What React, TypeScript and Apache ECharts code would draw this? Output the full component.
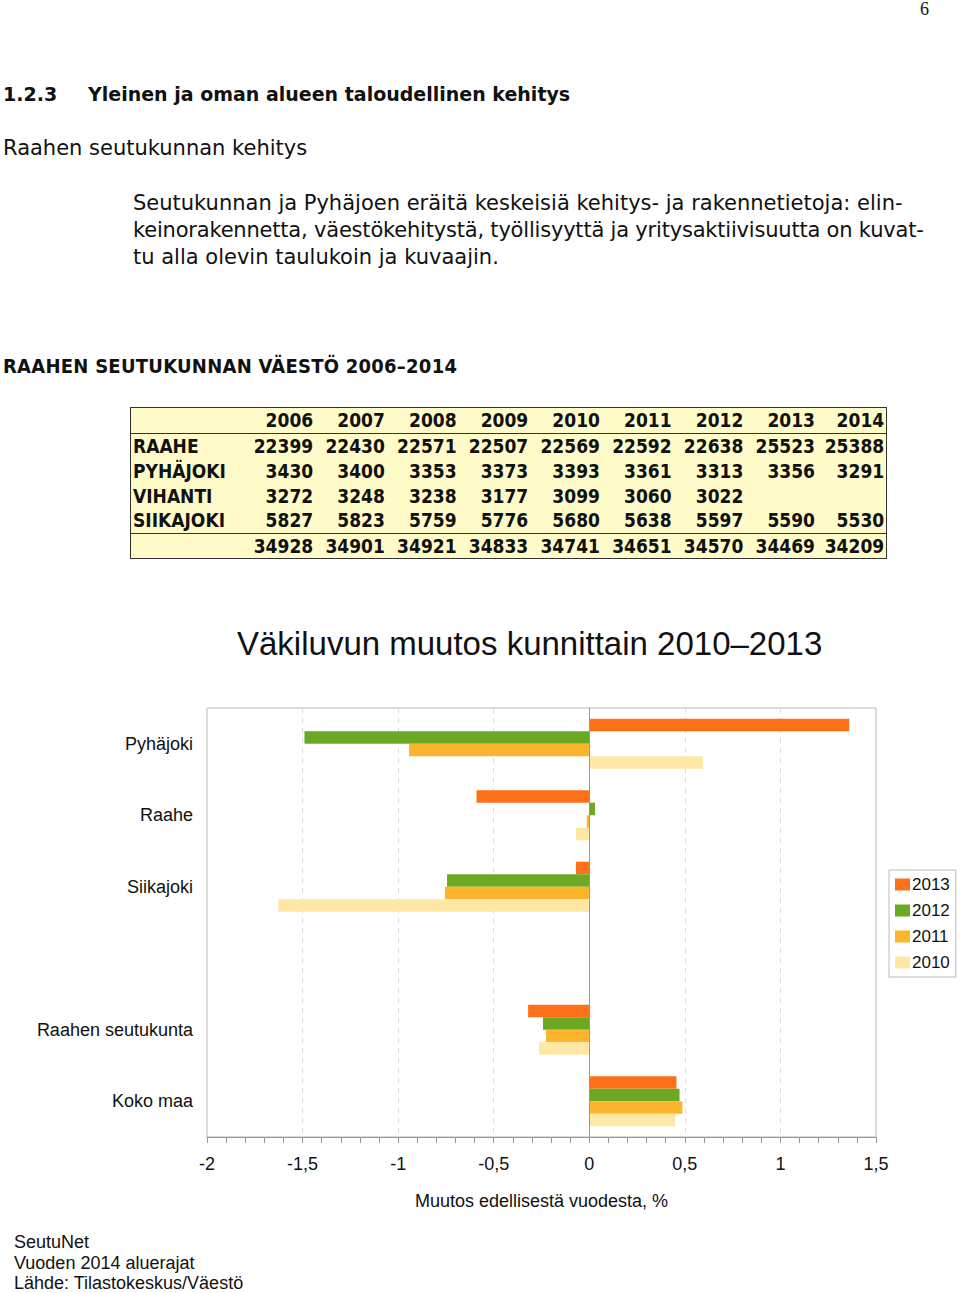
import React, { useEffect, useRef } from "react";
import * as echarts from "echarts";

// ---------- data ----------
const tableYears = ["2006", "2007", "2008", "2009", "2010", "2011", "2012", "2013", "2014"];
const raahe = ["22399", "22430", "22571", "22507", "22569", "22592", "22638", "25523", "25388"];
const pyhajoki = ["3430", "3400", "3353", "3373", "3393", "3361", "3313", "3356", "3291"];
const vihanti = ["3272", "3248", "3238", "3177", "3099", "3060", "3022", "", ""];
const siikajoki = ["5827", "5823", "5759", "5776", "5680", "5638", "5597", "5590", "5530"];
const totals = ["34928", "34901", "34921", "34833", "34741", "34651", "34570", "34469", "34209"];

const categories = ["Pyhäjoki", "Raahe", "Siikajoki", "", "Raahen seutukunta", "Koko maa"];
const seriesNames = ["2013", "2012", "2011", "2010"];
const v2013 = [1.36, -0.59, -0.07, null, -0.32, 0.456];
const v2012 = [-1.49, 0.03, -0.744, null, -0.242, 0.472];
const v2011 = [-0.943, -0.013, -0.755, null, -0.226, 0.487];
const v2010 = [0.594, -0.07, -1.627, null, -0.263, 0.449];
const seriesColors = ["#FF7119", "#6BA823", "#FCB52D", "#FFE8A6"];

const DOC_FONT = "'DejaVu Sans', sans-serif";
const TABLE_FONT = "'DejaVu Sans Condensed', 'DejaVu Sans', sans-serif";
const CHART_FONT = "'Liberation Sans', Arial, sans-serif";

function Txt(props: { x: number; y: number; size: number; bold?: boolean; font?: string; children: any; style?: any }) {
  return (
    <div
      style={{
        position: "absolute",
        left: props.x,
        top: props.y,
        fontSize: props.size,
        fontWeight: props.bold ? 700 : 400,
        fontFamily: props.font || DOC_FONT,
        whiteSpace: "nowrap",
        lineHeight: 1,
        color: "#111",
        ...(props.style || {}),
      }}
    >
      {props.children}
    </div>
  );
}

function PopTable() {
  const rows = [
    ["RAAHE", raahe],
    ["PYHÄJOKI", pyhajoki],
    ["VIHANTI", vihanti],
    ["SIIKAJOKI", siikajoki],
  ] as [string, string[]][];
  const cell: any = { textAlign: "right", padding: "0 0 0 0", width: 71.5 };
  const labelCell: any = { textAlign: "left", paddingLeft: 2, width: 110 };
  return (
    <table
      style={{
        position: "absolute",
        left: 130,
        top: 407,
        width: 757,
        borderCollapse: "collapse",
        tableLayout: "fixed",
        background: "#FFFBC9",
        border: "1.5px solid #333",
        fontFamily: TABLE_FONT,
        fontStretch: "condensed",
        fontWeight: 700,
        fontSize: 19,
        color: "#111",
        lineHeight: 1,
      }}
    >
      <colgroup>
        <col style={{ width: 111 }} />
        {tableYears.map((y) => (
          <col key={y} style={{ width: 71.7 }} />
        ))}
      </colgroup>
      <tbody>
        <tr style={{ height: 26, borderBottom: "1.5px solid #333" }}>
          <td style={labelCell}></td>
          {tableYears.map((y, i) => (
            <td key={y} style={{ ...cell, paddingRight: i === 8 ? 2 : 0 }}>
              {y}
            </td>
          ))}
        </tr>
        {rows.map(([name, vals]) => (
          <tr key={name} style={{ height: 25 }}>
            <td style={labelCell}>{name}</td>
            {vals.map((v, i) => (
              <td key={i} style={{ ...cell, paddingRight: i === 8 ? 2 : 0 }}>
                {v}
              </td>
            ))}
          </tr>
        ))}
        <tr style={{ height: 25, borderTop: "1.5px solid #333" }}>
          <td style={labelCell}></td>
          {totals.map((v, i) => (
            <td key={i} style={{ ...cell, paddingRight: i === 8 ? 2 : 0 }}>
              {v}
            </td>
          ))}
        </tr>
      </tbody>
    </table>
  );
}

function Chart() {
  const ref = useRef<HTMLDivElement>(null);
  useEffect(() => {
    if (!ref.current) return;
    const chart = echarts.init(ref.current, null, { renderer: "svg" });
    const values = [v2013, v2012, v2011, v2010];
    chart.setOption({
      animation: false,
      textStyle: { fontFamily: CHART_FONT },
      title: {
        text: "Väkiluvun muutos kunnittain 2010–2013",
        left: 237,
        top: 27,
        padding: 0,
        textStyle: { fontFamily: CHART_FONT, fontSize: 33, fontWeight: 400, color: "#111" },
      },
      legend: {
        data: seriesNames,
        orient: "vertical",
        left: 889,
        top: 270,
        itemWidth: 15,
        itemHeight: 12,
        itemGap: 9,
        padding: [6, 6, 6, 6],
        borderColor: "#bbb",
        borderWidth: 1,
        textStyle: { fontFamily: CHART_FONT, fontSize: 17, color: "#111", padding: [0, 0, 0, -3] },
        icon: "rect",
      },
      grid: {
        left: 207,
        right: 84,
        top: 108,
        bottom: 156,
        show: true,
        borderColor: "#b5b5b5",
        borderWidth: 1,
        containLabel: false,
      },
      xAxis: {
        type: "value",
        min: -2,
        max: 1.5,
        interval: 0.5,
        name: "Muutos edellisestä vuodesta, %",
        nameLocation: "middle",
        nameGap: 55,
        nameTextStyle: { fontFamily: CHART_FONT, fontSize: 18, color: "#111" },
        axisLine: { show: true, lineStyle: { color: "#999" } },
        axisTick: { show: true, length: 6, lineStyle: { color: "#999" } },
        minorTick: { show: true, splitNumber: 5, length: 6, lineStyle: { color: "#999" } },
        splitLine: { show: true, lineStyle: { color: "#dcdcdc", type: [5, 5] } },
        axisLabel: {
          fontFamily: CHART_FONT,
          fontSize: 18,
          color: "#111",
          margin: 18,
          formatter: (v: number) => String(v).replace(".", ","),
        },
      },
      yAxis: {
        type: "category",
        data: categories,
        inverse: true,
        axisLine: { show: false, onZero: false },
        axisTick: { show: false },
        axisLabel: { fontFamily: CHART_FONT, fontSize: 18, color: "#111", margin: 14 },
      },
      series: seriesNames.map((name, i) => ({
        name,
        type: "bar",
        data: values[i],
        barGap: "0%",
        barCategoryGap: "30%",
        itemStyle: { color: seriesColors[i] },
        markLine:
          i === 0
            ? {
                silent: true,
                symbol: "none",
                label: { show: false },
                lineStyle: { color: "#999", type: "solid", width: 1 },
                data: [{ xAxis: 0 }],
              }
            : undefined,
      })),
    });
    return () => chart.dispose();
  }, []);
  return <div ref={ref} style={{ position: "absolute", left: 0, top: 600, width: 960, height: 693 }} />;
}

export default function App() {
  useEffect(() => {
    document.body.style.margin = "0";
  }, []);
  return (
    <div style={{ position: "relative", width: 960, height: 1293, background: "#fff", overflow: "hidden" }}>
      <Txt x={920} y={0} size={18} font="'Liberation Serif', serif">
        6
      </Txt>
      <Txt x={3} y={85} size={19} bold>
        1.2.3
      </Txt>
      <Txt x={88} y={85} size={19} bold>
        Yleinen ja oman alueen taloudellinen kehitys
      </Txt>
      <Txt x={3} y={138} size={21}>
        Raahen seutukunnan kehitys
      </Txt>
      <Txt x={133} y={193} size={21}>
        Seutukunnan ja Pyhäjoen eräitä keskeisiä kehitys- ja rakennetietoja: elin-
      </Txt>
      <Txt x={133} y={220} size={21} style={{ letterSpacing: -0.2 }}>
        keinorakennetta, väestökehitystä, työllisyyttä ja yritysaktiivisuutta on kuvat-
      </Txt>
      <Txt x={133} y={247} size={21}>
        tu alla olevin taulukoin ja kuvaajin.
      </Txt>
      <Txt x={3} y={356} size={20} bold font={TABLE_FONT} style={{ fontStretch: "condensed", letterSpacing: 0.25 }}>
        RAAHEN SEUTUKUNNAN VÄESTÖ 2006–2014
      </Txt>
      <PopTable />
      <Chart />
      <Txt x={14} y={1233} size={18} font={CHART_FONT}>
        SeutuNet
      </Txt>
      <Txt x={14} y={1254} size={18} font={CHART_FONT}>
        Vuoden 2014 aluerajat
      </Txt>
      <Txt x={14} y={1274} size={18} font={CHART_FONT}>
        Lähde: Tilastokeskus/Väestö
      </Txt>
    </div>
  );
}
